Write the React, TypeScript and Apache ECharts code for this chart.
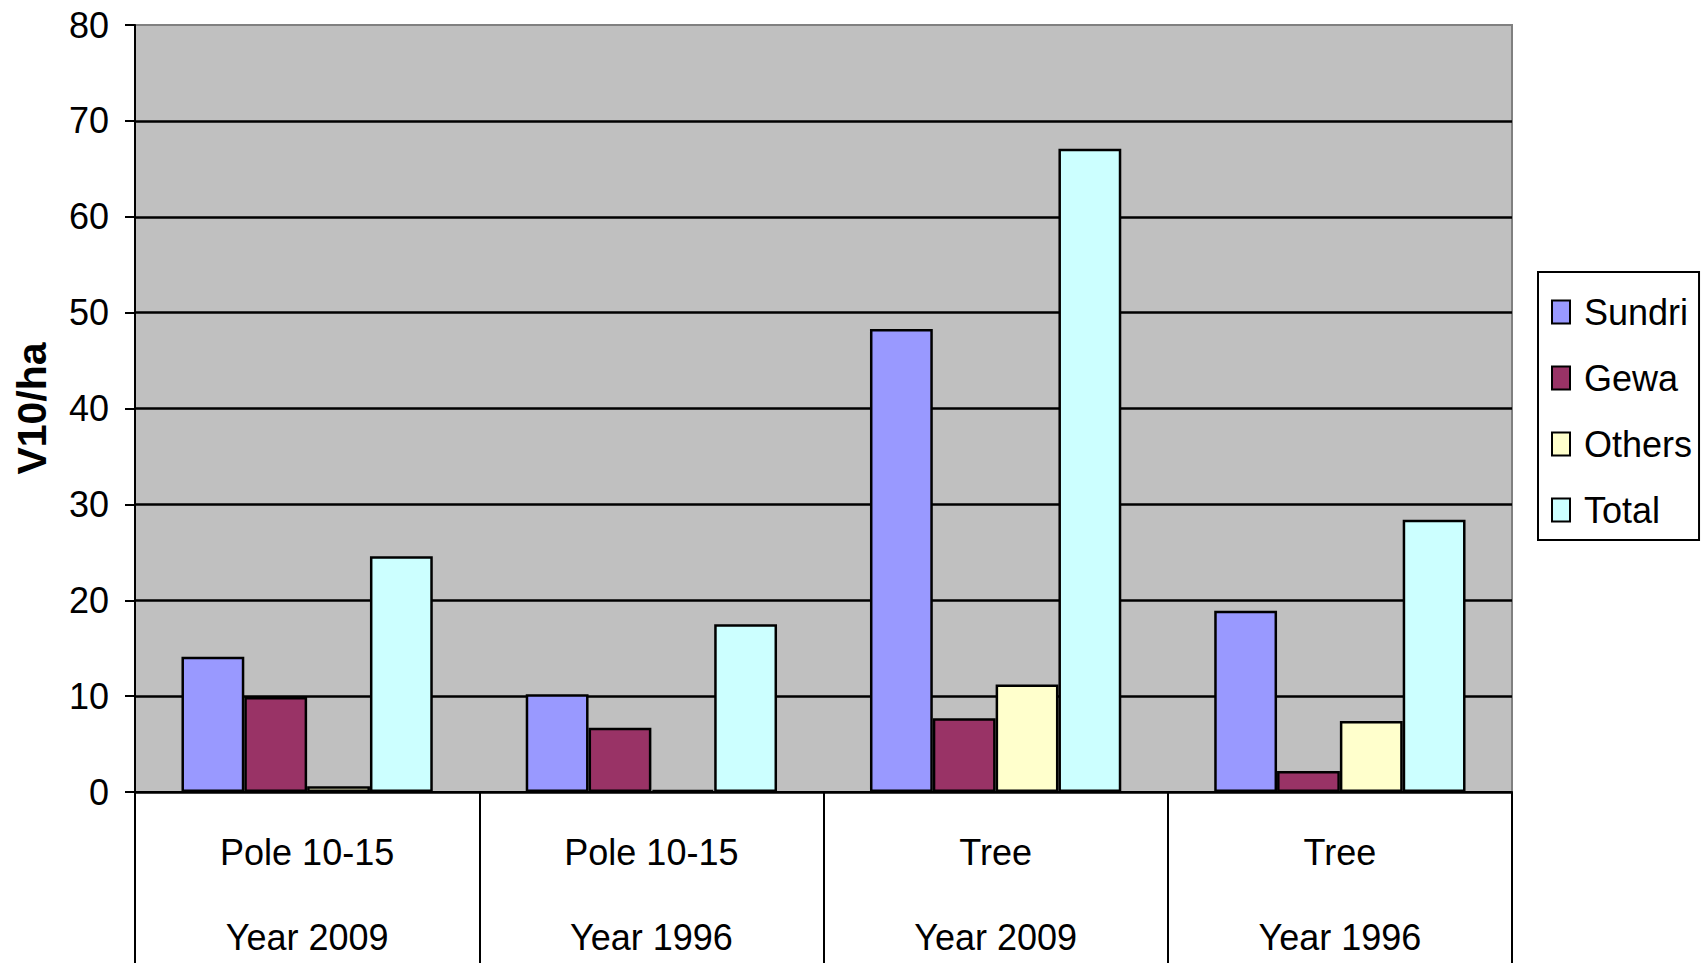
import React, { useEffect, useRef } from "react";
import * as echarts from "echarts";

const categoryLine1 = ["Pole 10-15", "Pole 10-15", "Tree", "Tree"];
const categoryLine2 = ["Year 2009", "Year 1996", "Year 2009", "Year 1996"];
const seriesNames = ["Sundri", "Gewa", "Others", "Total"];
const sundri = [14.1, 10.2, 48.3, 18.9];
const gewa = [9.9, 6.7, 7.7, 2.2];
const others = [0.6, 0.2, 11.2, 7.4];
const total = [24.6, 17.5, 67.1, 28.4];
const seriesColors = ["#9999FF", "#993366", "#FFFFCC", "#CCFFFF"];
const yTicks = { min: 0, max: 80, interval: 10 };
const yTitle = "V10/ha";

const FONT = "'Liberation Sans', Arial, sans-serif";

export default function App() {
  const ref = useRef<HTMLDivElement>(null);
  useEffect(() => {
    if (!ref.current) return;
    const chart = echarts.init(ref.current, null, { renderer: "svg" });
    const values = [sundri, gewa, others, total];
    const categories = categoryLine1.map((c, i) => c + "\n" + categoryLine2[i]);
    chart.setOption({
      animation: false,
      backgroundColor: "#ffffff",
      textStyle: { fontFamily: FONT },
      grid: {
        left: 135,
        right: 196,
        top: 25,
        bottom: 171,
        containLabel: false,
        outerBoundsMode: "none",
        show: true,
        backgroundColor: "#C0C0C0",
        borderColor: "#808080",
        borderWidth: 2,
      },
      legend: {
        orient: "vertical",
        left: 1538,
        top: 272,
        padding: [22, 7, 12, 13],
        backgroundColor: "#ffffff",
        borderColor: "#000000",
        borderWidth: 2,
        itemWidth: 18,
        itemHeight: 23,
        itemGap: 30,
        icon: "rect",
        textStyle: {
          fontFamily: FONT,
          fontSize: 36,
          color: "#000",
          lineHeight: 34,
          padding: [0, 0, 0, 9],
        },
        itemStyle: { borderColor: "#000", borderWidth: 2 },
        data: seriesNames,
      },
      xAxis: {
        type: "category",
        data: categories,
        boundaryGap: true,
        axisLine: { show: true, lineStyle: { color: "#000", width: 2 } },
        axisTick: {
          show: true,
          interval: 0,
          alignWithLabel: false,
          length: 180,
          lineStyle: { color: "#000", width: 2 },
        },
        axisLabel: {
          interval: 0,
          margin: 18,
          fontFamily: FONT,
          fontSize: 36,
          lineHeight: 85,
          color: "#000",
        },
        splitLine: { show: false },
      },
      yAxis: {
        type: "value",
        min: yTicks.min,
        max: yTicks.max,
        interval: yTicks.interval,
        name: yTitle,
        nameLocation: "middle",
        nameGap: 83,
        nameTextStyle: {
          fontFamily: FONT,
          fontSize: 41,
          fontWeight: "bold",
          color: "#000",
        },
        axisLine: { show: true, lineStyle: { color: "#000", width: 2 } },
        axisTick: {
          show: true,
          inside: false,
          length: 10,
          lineStyle: { color: "#000", width: 2 },
        },
        axisLabel: {
          margin: 26,
          fontFamily: FONT,
          fontSize: 36,
          color: "#000",
        },
        splitLine: {
          show: true,
          showMaxLine: false,
          lineStyle: { color: "#000", width: 2.5 },
        },
      },
      series: seriesNames.map((name, i) => ({
        name,
        type: "bar",
        data: values[i],
        barGap: "0%",
        barCategoryGap: "27%",
        itemStyle: {
          color: seriesColors[i],
          borderColor: "#000",
          borderWidth: 2.5,
        },
      })),
    });
    return () => chart.dispose();
  }, []);
  return (
    <div
      ref={ref}
      style={{ position: "fixed", left: 0, top: 0, width: "1708px", height: "963px" }}
    />
  );
}
